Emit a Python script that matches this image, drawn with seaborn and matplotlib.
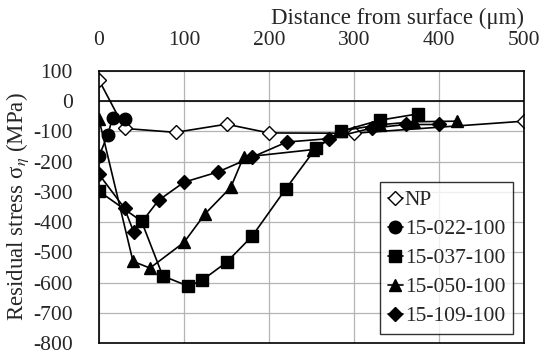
import matplotlib
matplotlib.use("Agg")
import matplotlib.pyplot as plt
import seaborn as sns
import pandas as pd

# distance from surface (um) and residual stress (MPa) per sample
np_x = [0, 30, 90, 150, 200, 300, 500]
np_y = [70, -90, -103, -76, -105, -106, -66]

s022_x = [0, 10, 16, 30]
s022_y = [-182, -113, -56, -60]

s037_x = [0, 50, 75, 105, 121, 150, 180, 220, 255, 285, 330, 375]
s037_y = [-298, -397, -578, -612, -593, -533, -447, -289, -156, -99, -63, -42]

s050_x = [0, 40, 60, 100, 125, 155, 170, 252, 285, 330, 370, 421]
s050_y = [-60, -530, -552, -467, -372, -285, -185, -160, -98, -78, -68, -66]

s109_x = [0, 30, 41, 70, 100, 140, 180, 221, 270, 321, 361, 400]
s109_y = [-242, -354, -434, -328, -268, -234, -185, -135, -124, -89, -77, -77]

series = [
    ("NP", np_x, np_y, "D", "white", 7),
    ("15-022-100", s022_x, s022_y, "o", "black", 9),
    ("15-037-100", s037_x, s037_y, "s", "black", 8.5),
    ("15-050-100", s050_x, s050_y, "^", "black", 8),
    ("15-109-100", s109_x, s109_y, "D", "black", 7),
]

sns.set_style("white")
plt.rcParams["font.family"] = ["Liberation Serif", "DejaVu Serif"]
plt.rcParams["mathtext.fontset"] = "stix"
plt.rcParams["axes.unicode_minus"] = False

fs = 15.5
fig = plt.figure(figsize=(5.5, 3.55), dpi=100)
ax = fig.add_axes([99 / 550, 1 - 343 / 355, 425 / 550, 272 / 355])

for name, xs, ys, mk, fc, ms in series:
    df = pd.DataFrame({"x": xs, "y": ys})
    sns.lineplot(data=df, x="x", y="y", ax=ax, sort=False, color="black",
                 marker=mk, markerfacecolor=fc, markeredgecolor="black",
                 markeredgewidth=1.0, markersize=ms, linewidth=1.2, label=name)

ax.set_xlim(0, 500)
ax.set_ylim(-800, 100)
ax.set_xticks(range(0, 501, 100))
ax.set_yticks(range(-800, 101, 100))
ax.grid(True, color="#b4b4b4", linewidth=0.9)
ax.axhline(0, color="black", linewidth=1.2, zorder=1.5)
for s in ax.spines.values():
    s.set_color("black")
    s.set_linewidth(1.2)

ax.xaxis.tick_top()
ax.xaxis.set_label_position("top")
ax.tick_params(length=0, labelsize=fs)
ax.tick_params(axis="x", pad=15)
ax.tick_params(axis="y", pad=19)
ax.set_xlabel("Distance from surface (μm)", fontsize=16.5, loc="right", labelpad=5)
ax.set_ylabel("Residual stress σ$_{\\eta}$ (MPa)", fontsize=16.5, labelpad=1)

leg = ax.legend(loc="lower right", bbox_to_anchor=(0.974, 0.033), fontsize=fs,
                handlelength=0.7, handletextpad=0.1, frameon=True, fancybox=False,
                borderpad=0.35, labelspacing=0.42, borderaxespad=0)
leg.get_frame().set_edgecolor("black")
leg.get_frame().set_linewidth(1.0)

fig.savefig("out.png", dpi=100)
